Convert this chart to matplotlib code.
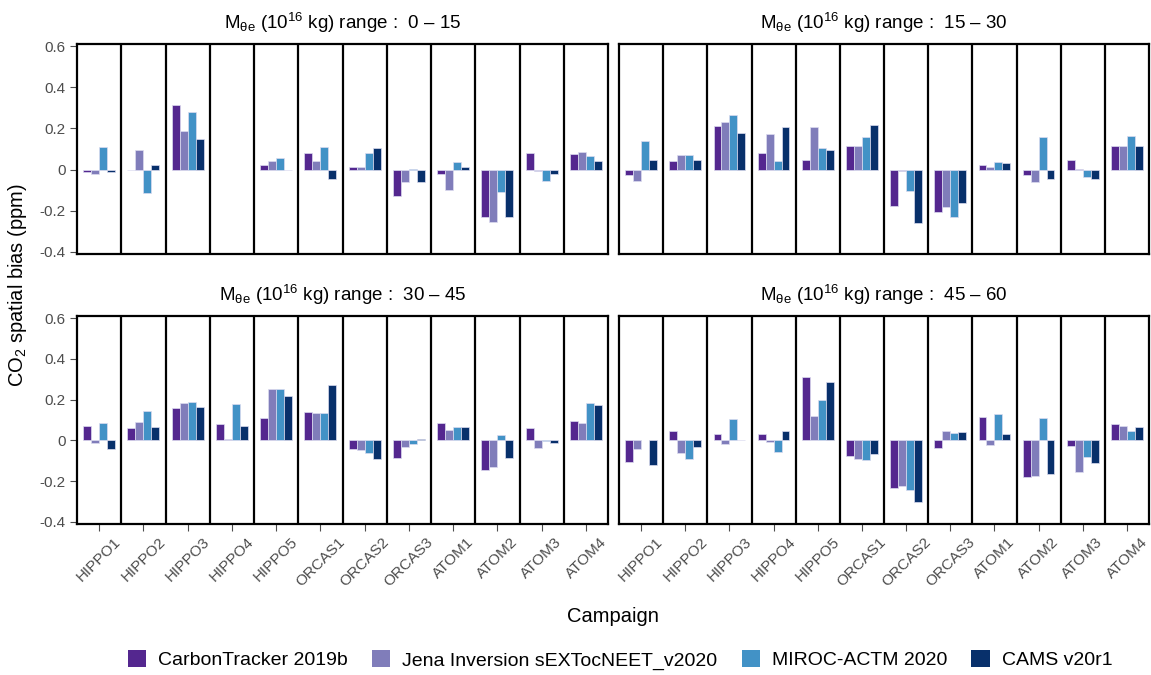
import numpy as np
import matplotlib
matplotlib.use('Agg')
import matplotlib.pyplot as plt
from matplotlib.patches import Patch

plt.rcParams['font.family'] = ['Liberation Sans', 'DejaVu Sans']
plt.rcParams['mathtext.fontset'] = 'custom'
plt.rcParams['mathtext.rm'] = 'Liberation Sans'
plt.rcParams['mathtext.it'] = 'Liberation Sans:italic'

campaigns = ['HIPPO1', 'HIPPO2', 'HIPPO3', 'HIPPO4', 'HIPPO5', 'ORCAS1',
             'ORCAS2', 'ORCAS3', 'ATOM1', 'ATOM2', 'ATOM3', 'ATOM4']
models = ['CarbonTracker 2019b', 'Jena Inversion sEXTocNEET_v2020',
          'MIROC-ACTM 2020', 'CAMS v20r1']
colors = ['#54278f', '#807dba', '#4292c6', '#08306b']
ranges = ['0 \u2013 15', '15 \u2013 30', '30 \u2013 45', '45 \u2013 60']

nan = np.nan
# bias per range, rows = campaigns, columns = models
bias_0_15 = [
    [-0.010, -0.020, 0.110, -0.010],
    [-0.003, 0.096, -0.112, 0.024],
    [0.314, 0.189, 0.282, 0.150],
    [nan, nan, nan, nan],
    [0.021, 0.042, 0.058, -0.003],
    [0.083, 0.042, 0.109, -0.046],
    [0.013, 0.013, 0.080, 0.104],
    [-0.130, -0.059, 0.005, -0.059],
    [-0.021, -0.100, 0.037, 0.011],
    [-0.232, -0.256, -0.110, -0.229],
    [0.080, -0.008, -0.056, -0.022],
    [0.074, 0.086, 0.066, 0.042],
]
bias_15_30 = [
    [-0.028, -0.055, 0.139, 0.045],
    [0.041, 0.073, 0.073, 0.045],
    [0.212, 0.231, 0.263, 0.180],
    [0.081, 0.172, 0.044, 0.205],
    [0.045, 0.208, 0.106, 0.094],
    [0.117, 0.114, 0.159, 0.217],
    [-0.177, -0.008, -0.103, -0.259],
    [-0.208, -0.180, -0.231, -0.163],
    [0.023, 0.011, 0.036, 0.031],
    [-0.027, -0.059, 0.158, -0.048],
    [0.047, 0.002, -0.034, -0.048],
    [0.114, 0.114, 0.163, 0.114],
]
bias_30_45 = [
    [0.069, -0.011, 0.083, -0.041],
    [0.061, 0.091, 0.143, 0.066],
    [0.157, 0.183, 0.188, 0.165],
    [0.082, 0.006, 0.180, 0.071],
    [0.110, 0.254, 0.254, 0.216],
    [0.141, 0.135, 0.135, 0.274],
    [-0.044, -0.049, -0.064, -0.091],
    [-0.088, -0.031, -0.016, 0.006],
    [0.086, 0.053, 0.066, 0.066],
    [-0.146, -0.132, 0.024, -0.086],
    [0.061, -0.038, -0.003, -0.011],
    [0.097, 0.086, 0.185, 0.172],
]
bias_45_60 = [
    [-0.106, -0.044, nan, -0.122],
    [0.047, -0.062, -0.089, -0.031],
    [0.030, -0.020, 0.106, 0.001],
    [0.033, -0.006, -0.056, 0.048],
    [0.309, 0.122, 0.197, 0.284],
    [-0.077, -0.089, -0.098, -0.069],
    [-0.234, -0.222, -0.245, -0.303],
    [-0.036, 0.047, 0.036, 0.041],
    [0.114, -0.023, 0.131, 0.031],
    [-0.180, -0.177, 0.109, -0.167],
    [-0.028, -0.153, -0.081, -0.111],
    [0.081, 0.072, 0.044, 0.067],
]
all_bias = [bias_0_15, bias_15_30, bias_30_45, bias_45_60]

W, H = 1151, 675
fig = plt.figure(figsize=(W / 100, H / 100), dpi=100)

# panel boxes in pixels: left, top, right, bottom
boxes = [(77, 44, 608, 254), (619, 44, 1149, 254),
         (77, 316, 608, 524), (619, 316, 1149, 524)]

grey = '#4d4d4d'
bw = 0.18
offsets = (np.arange(4) - 1.5) * bw
x = np.arange(len(campaigns))

for k in range(4):
    l, t, r, b = boxes[k]
    ax = fig.add_axes([l / W, 1 - b / H, (r - l) / W, (b - t) / H])
    data = np.array(all_bias[k])
    for j in range(4):
        ax.bar(x + offsets[j], data[:, j], width=bw, color=colors[j],
               edgecolor='#dcdcf0', linewidth=0.5)
    for i in range(1, len(campaigns)):
        ax.axvline(i - 0.5, color='black', lw=1.6)
    ax.set_xlim(-0.5, len(campaigns) - 0.5)
    ax.set_ylim(-0.41, 0.61)
    for s in ax.spines.values():
        s.set_linewidth(1.6)
        s.set_color('black')
    ax.set_yticks([-0.4, -0.2, 0, 0.2, 0.4, 0.6])
    ax.set_yticklabels(['-0.4', '-0.2', '0', '0.2', '0.4', '0.6'])
    ax.tick_params(axis='both', colors=grey, labelsize=11, length=5, width=0.8,
                   pad=3)
    ax.set_xticks(x)
    if k >= 2:
        ax.set_xticklabels(campaigns, rotation=45, ha='center', va='top',
                           color=grey, fontsize=11)
    else:
        ax.tick_params(axis='x', length=0, labelbottom=False)
    if k % 2 == 1:
        ax.tick_params(axis='y', length=0, labelleft=False)
    ax.set_title(r'M$_{\mathregular{\theta e}}$ (10$^{\mathregular{16}}$ kg) range :  ' + ranges[k],
                 fontsize=13.5, pad=11)

fig.text(18 / W, 1 - 285 / H, r'CO$_2$ spatial bias (ppm)', rotation=90,
         ha='center', va='center', fontsize=14.5)
fig.text(613 / W, 1 - 617 / H, 'Campaign', ha='center', va='center',
         fontsize=14.5)

handles = [Patch(facecolor=c, edgecolor='none') for c in colors]
fig.legend(handles, models, loc='center', bbox_to_anchor=(620 / W, 1 - 660 / H),
           ncol=4, frameon=False, fontsize=14, handlelength=0.95,
           handleheight=0.95, handletextpad=0.6, columnspacing=1.25)

fig.savefig('out.png', dpi=100)
